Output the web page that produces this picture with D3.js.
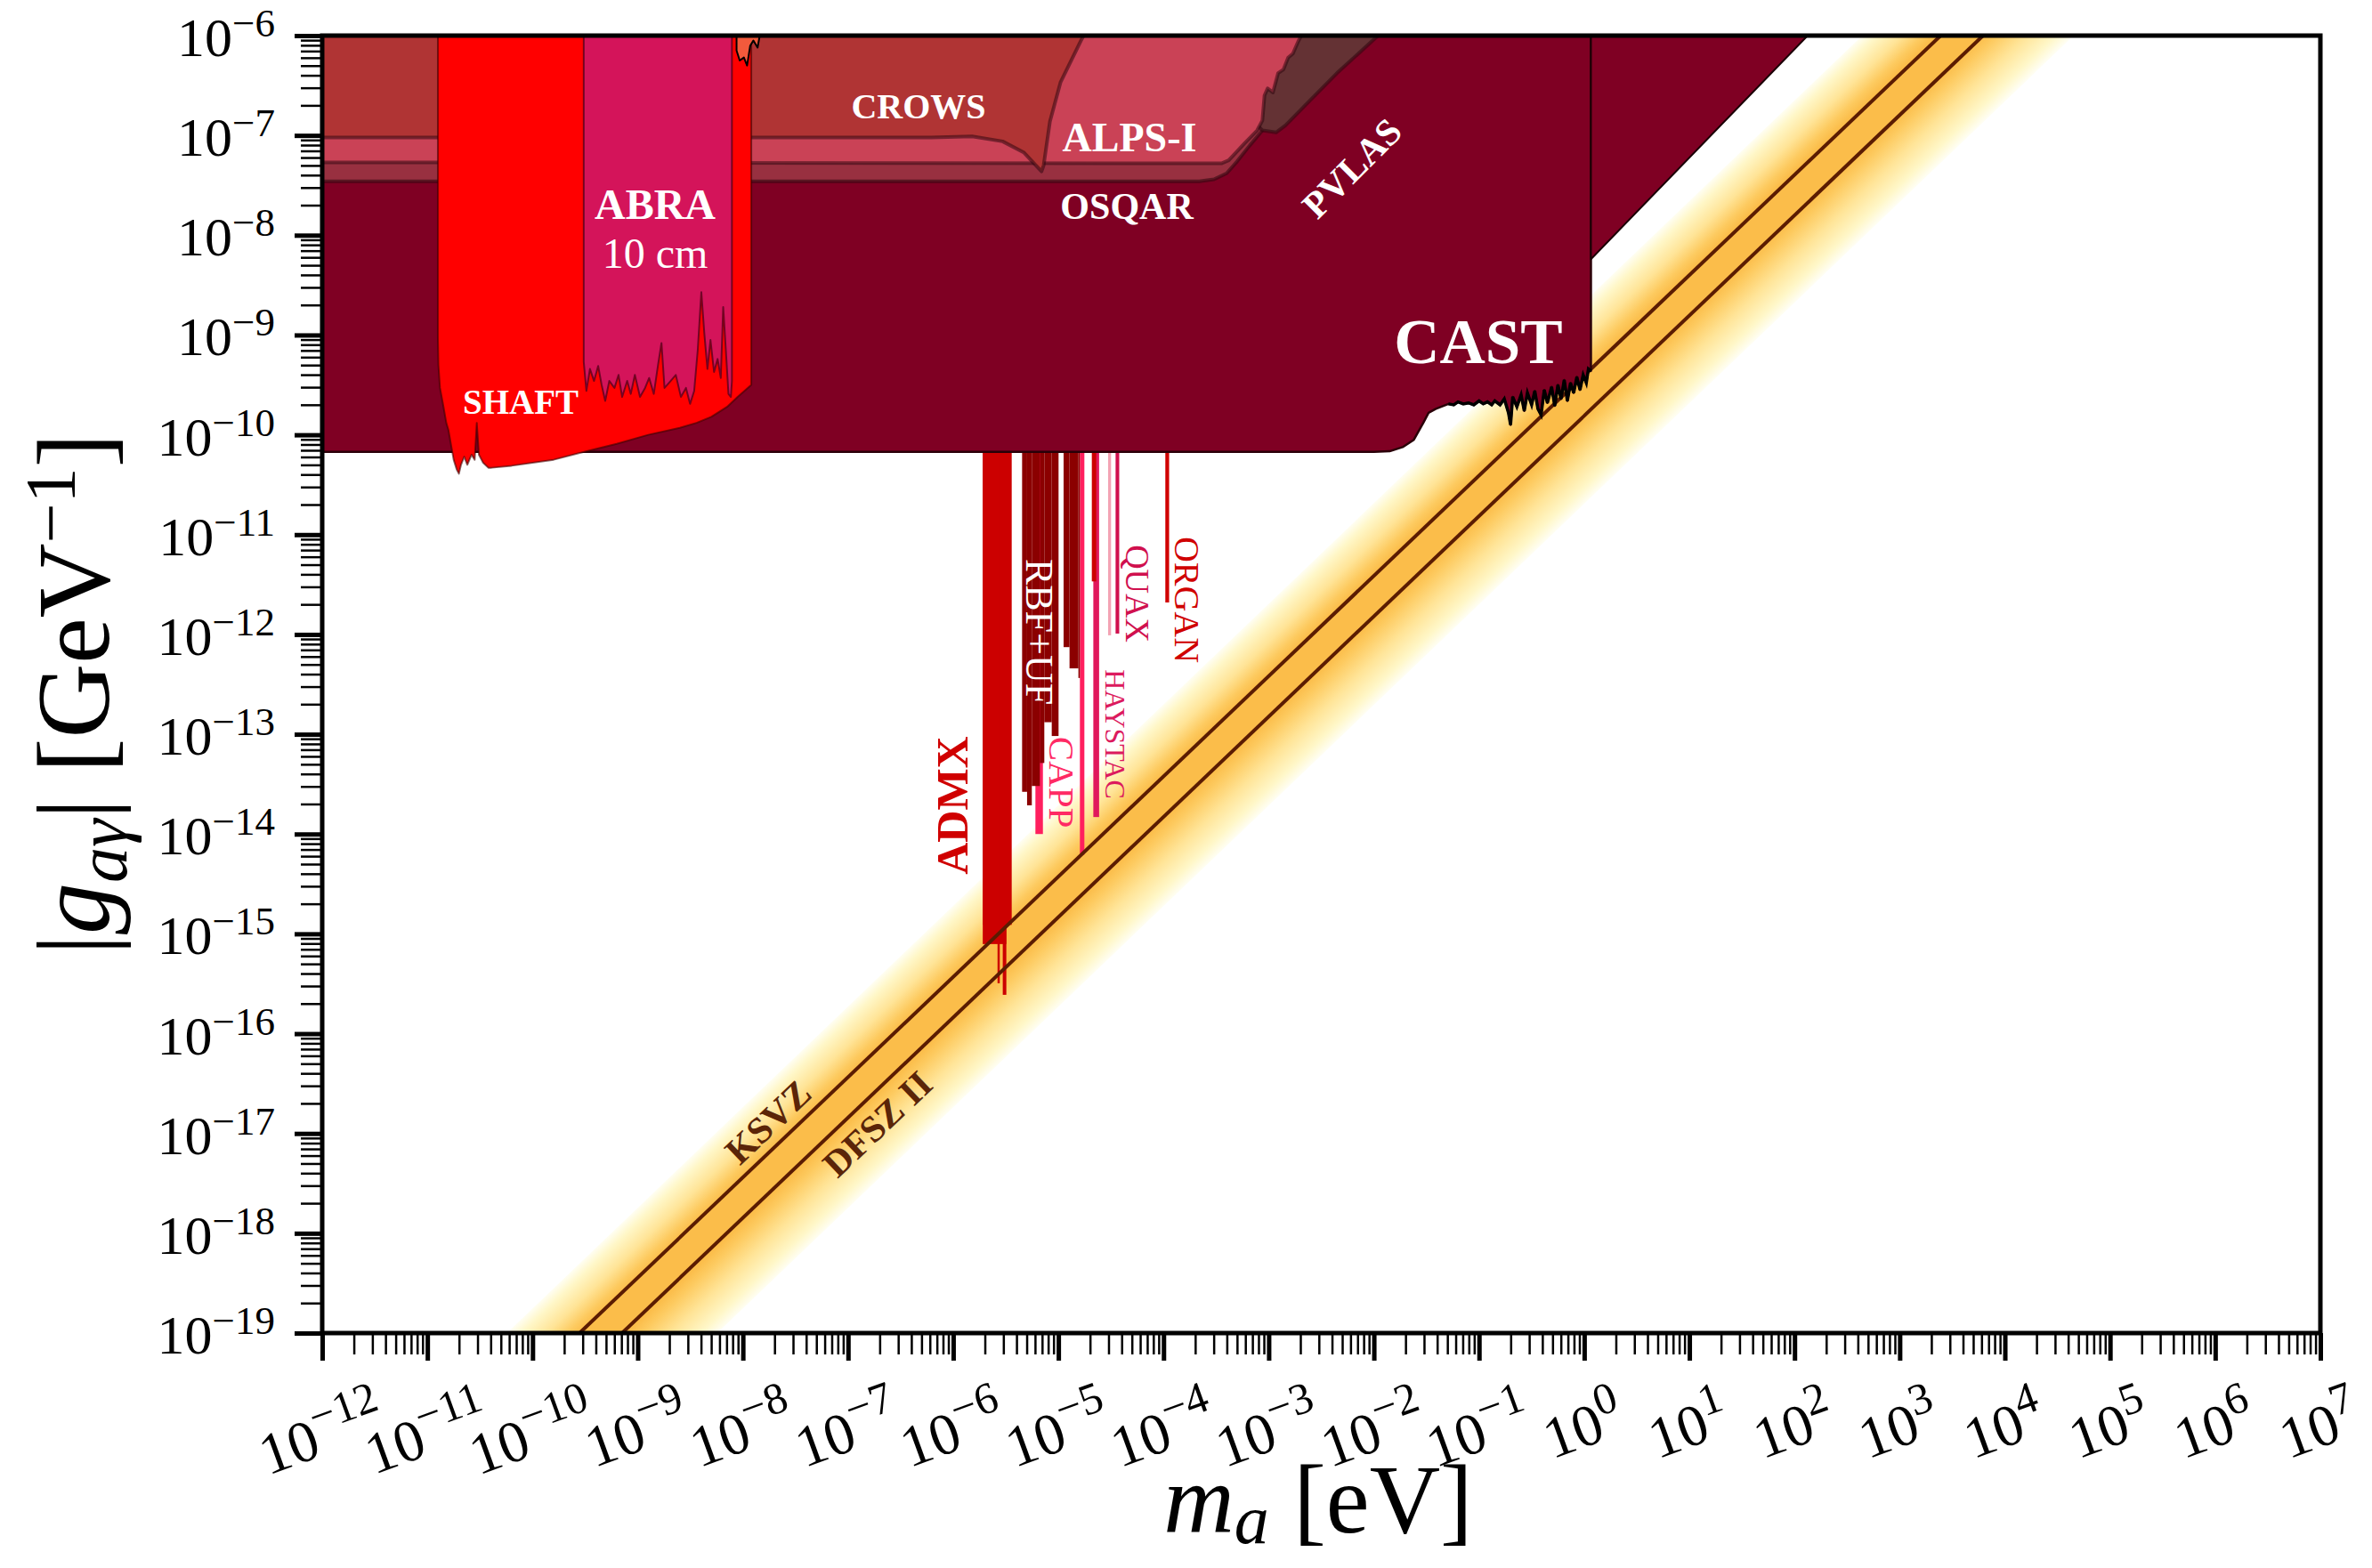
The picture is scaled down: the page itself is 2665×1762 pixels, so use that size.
<!DOCTYPE html>
<html>
<head>
<meta charset="utf-8">
<script src="https://cdn.jsdelivr.net/npm/d3@7"></script>
<style>
  body { margin: 0; background: #fff; }
  svg { display: block; }
  text { font-family: "Liberation Serif", "DejaVu Serif", serif; }
</style>
</head>
<body>
<svg id="chart" width="2665" height="1762"></svg>
<script>
// axion-photon coupling vs axion mass, log-log plane
// region outlines are stored as [log10 m (eV), log10 g (GeV^-1)]

var xDecades = d3.range(-12, 8);
var yDecades = d3.range(-19, -5);

// helioscope (CAST) + the region right of it
var castLog = [[-12,-6],[-12,-10.17],[-2.0,-10.17],[-1.85,-10.165],[-1.72,-10.12],[-1.62,-10.05],[-1.53,-9.88],
  [-1.48,-9.78],[-1.41,-9.74],[-1.29,-9.69],[-1.24,-9.70],[-1.20,-9.67],[-1.15,-9.69],[-1.10,-9.68],[-1.05,-9.70],
  [-1.00,-9.66],[-0.96,-9.69],[-0.92,-9.67],[-0.88,-9.70],[-0.85,-9.66],[-0.80,-9.70],[-0.76,-9.64],[-0.72,-9.78],
  [-0.70,-9.90],[-0.68,-9.62],[-0.64,-9.72],[-0.60,-9.60],[-0.57,-9.76],[-0.54,-9.58],[-0.50,-9.70],[-0.47,-9.56],
  [-0.44,-9.74],[-0.41,-9.80],[-0.38,-9.55],[-0.35,-9.68],[-0.31,-9.52],[-0.28,-9.71],[-0.25,-9.50],[-0.22,-9.64],
  [-0.19,-9.45],[-0.16,-9.66],[-0.13,-9.48],[-0.10,-9.58],[-0.07,-9.42],[-0.04,-9.55],[-0.01,-9.40],[0.02,-9.48],
  [0.04,-9.34],[0.064,-9.36],[0.064,-6]];
var castSideLog = [[0.064,-6],[0.064,-8.24],[2.125,-6]];

// light-shining-through-wall and birefringence
var crowsLog = [[-12,-6],[-12,-7.02],[-6.21,-7.02],[-5.82,-7.01],[-5.53,-7.06],[-5.33,-7.17],[-5.16,-7.36],
  [-5.14,-7.30],[-5.08,-6.86],[-4.98,-6.47],[-4.78,-6.04],[-4.76,-6]];
var alpsLog = [[-12,-6],[-12,-7.27],[-3.45,-7.28],[-3.38,-7.25],[-3.23,-7.08],[-3.11,-6.95],[-3.06,-6.85],
  [-3.04,-6.60],[-3.01,-6.53],[-2.96,-6.57],[-2.91,-6.375],[-2.86,-6.34],[-2.815,-6.22],[-2.77,-6.18],
  [-2.72,-6.06],[-2.69,-6]];
var osqarLog = [[-12,-6],[-12,-7.46],[-3.66,-7.46],[-3.52,-7.44],[-3.40,-7.38],[-3.30,-7.26],[-3.18,-7.10],
  [-3.06,-6.95],[-3.0,-6.6],[-3.0,-6]];
var pvlasLog = [[-3.5,-6],[-3.5,-6.5],[-3.06,-6.95],[-2.93,-6.97],[-2.84,-6.90],[-2.645,-6.69],[-2.35,-6.375],
  [-1.96,-6]];

// low-mass haloscopes
var shaftLog = [[-10.90,-6],[-10.90,-9.02],[-10.895,-9.30],[-10.88,-9.53],[-10.85,-9.70],[-10.82,-9.88],
  [-10.80,-9.95],[-10.775,-10.10],[-10.75,-10.25],[-10.72,-10.35],[-10.70,-10.39],[-10.68,-10.30],
  [-10.65,-10.22],[-10.62,-10.30],[-10.58,-10.20],[-10.55,-10.25],[-10.53,-9.88],[-10.51,-10.20],
  [-10.47,-10.28],[-10.42,-10.33],[-10.39,-10.33],[-10.2,-10.31],[-10.0,-10.28],[-9.8,-10.25],[-9.51,-10.17],
  [-9.2,-10.09],[-8.9,-10.0],[-8.6,-9.93],[-8.44,-9.88],[-8.3,-9.82],[-8.15,-9.72],[-8.05,-9.62],[-7.92,-9.50],
  [-7.92,-6]];
var abraLog = [[-9.513,-6],[-9.513,-9.27],[-9.488,-9.56],[-9.454,-9.34],[-9.415,-9.46],[-9.376,-9.31],
  [-9.343,-9.50],[-9.309,-9.66],[-9.270,-9.46],[-9.221,-9.53],[-9.182,-9.40],[-9.148,-9.62],[-9.100,-9.46],
  [-9.066,-9.59],[-9.027,-9.40],[-8.978,-9.62],[-8.930,-9.53],[-8.891,-9.43],[-8.847,-9.59],[-8.808,-9.31],
  [-8.774,-9.08],[-8.745,-9.53],[-8.687,-9.46],[-8.638,-9.40],[-8.589,-9.62],[-8.541,-9.53],[-8.502,-9.69],
  [-8.463,-9.56],[-8.429,-9.15],[-8.395,-8.57],[-8.366,-8.99],[-8.337,-9.34],[-8.308,-9.05],[-8.274,-9.37],
  [-8.240,-9.24],[-8.210,-9.43],[-8.187,-8.72],[-8.162,-9.15],[-8.137,-9.59],[-8.114,-9.62],[-8.104,-9.46],
  [-8.104,-6]];
var topSliverLog = [[-8.06,-6],[-8.06,-6.15],[-8.03,-6.25],[-7.99,-6.22],[-7.96,-6.30],[-7.93,-6.10],
  [-7.90,-6.05],[-7.86,-6.12],[-7.84,-6]];

// cavity haloscopes: [m low, m high, g reached] (eV, GeV^-1)
var admx = [[1.91e-6,3.60e-6,1.23e-15],[1.91e-6,3.20e-6,7.9e-16],[2.64e-6,2.77e-6,3.2e-16],[2.96e-6,3.20e-6,2.45e-16]];
var capp = [[6.05e-6,7.13e-6,1.0e-14],[1.602e-5,1.767e-5,6.2e-15]];
var rbfuf = [[4.52e-6,5.04e-6,2.65e-14],[5.04e-6,5.59e-6,1.94e-14],[5.59e-6,6.67e-6,3.03e-14],
  [6.67e-6,7.35e-6,5.15e-14],[7.35e-6,8.65e-6,1.32e-13],[8.65e-6,1.004e-5,9.6e-14],
  [1.121e-5,1.277e-5,7.46e-13],[1.277e-5,1.551e-5,4.57e-13],[1.551e-5,1.602e-5,3.66e-13]];
var haystac = [[2.15e-5,2.44e-5,1.48e-14]];
var haystacTop = [[2.08e-5,2.29e-5,3.4e-12]];
var quaxFaint = [[2.97e-5,3.17e-5,9.8e-13]];
var quax = [[3.50e-5,3.79e-5,1.02e-12]];
var organ = [[1.04e-4,1.13e-4,2.09e-12]];

// QCD axion band and model lines, end points [m, g]
var bandUpper = [[5.7e-11,1e-19],[4.4e2,1e-6]];
var bandLower = [[5.7e-9,1e-19],[4.5e4,1e-6]];
var ksvz = [[2.8e-10,1e-19],[2.45e3,1e-6]];
var dfsz = [[7.1e-10,1e-19],[6.2e3,1e-6]];

var svg = d3.select('#chart');
var L = 362, R = 2607, T = 40, B = 1498;

var x = d3.scaleLog().domain([1e-12, 1e7]).range([L, R]);
var y = d3.scaleLog().domain([1e-19, 1e-6]).range([B, T]);

var logPath = d3.line()
  .x(function(d){ return x(Math.pow(10, d[0])); })
  .y(function(d){ return y(Math.pow(10, d[1])); });
var linPath = d3.line()
  .x(function(d){ return x(d[0]); })
  .y(function(d){ return y(d[1]); });

var defs = svg.append('defs');
defs.append('clipPath').attr('id', 'plotclip')
  .append('rect').attr('x', L).attr('y', T).attr('width', R - L).attr('height', B - T);

// gradient across the QCD band, perpendicular to it
var a1 = [x(bandUpper[0][0]), y(bandUpper[0][1])], a2 = [x(bandUpper[1][0]), y(bandUpper[1][1])];
var b1 = [x(bandLower[0][0]), y(bandLower[0][1])];
var ux = a2[0] - a1[0], uy = a2[1] - a1[1], ul = Math.sqrt(ux*ux + uy*uy);
ux /= ul; uy /= ul;
var nx = -uy, ny = ux;
var tt = (b1[0] - a1[0]) * nx + (b1[1] - a1[1]) * ny;
var grad = defs.append('linearGradient').attr('id', 'qcdband')
  .attr('gradientUnits', 'userSpaceOnUse')
  .attr('x1', a1[0]).attr('y1', a1[1])
  .attr('x2', a1[0] + tt * nx).attr('y2', a1[1] + tt * ny);
[[0,'#fffef2'],[0.07,'#fff7c8'],[0.19,'#ffe497'],[0.29,'#fdca5f'],[0.35,'#fbbd4a'],
 [0.57,'#fbbd4a'],[0.64,'#fdca5f'],[0.78,'#ffe497'],[0.92,'#fff7c8'],[1,'#fffef2']].forEach(function(s){
  grad.append('stop').attr('offset', s[0]).attr('stop-color', s[1]);
});

var plot = svg.append('g').attr('clip-path', 'url(#plotclip)');

plot.append('path')
  .attr('d', linPath([bandUpper[0], bandUpper[1], bandLower[1], bandLower[0]]) + 'Z')
  .attr('fill', 'url(#qcdband)');

function bars(data, color){
  plot.append('g').selectAll('rect').data(data).enter().append('rect')
    .attr('x', function(d){ return x(d[0]); })
    .attr('width', function(d){ return x(d[1]) - x(d[0]); })
    .attr('y', T)
    .attr('height', function(d){ return y(d[2]) - T; })
    .attr('fill', color);
}
bars(capp, '#ff1f5e');
bars(rbfuf, '#8b0000');
bars(admx, '#cc0000');
bars(quaxFaint, '#f3a3b4');
bars(haystac, '#e0185c');
bars(haystacTop, '#cc0000');
bars(quax, '#d0104e');
bars(organ, '#d00000');

[ksvz, dfsz].forEach(function(l){
  plot.append('path').attr('d', linPath(l))
    .attr('stroke', '#5b1c02').attr('stroke-width', 4).attr('fill', 'none');
});

function region(pts, fill, stroke, sw){
  plot.append('path').attr('d', logPath(pts) + 'Z')
    .attr('fill', fill)
    .attr('stroke', stroke || 'none')
    .attr('stroke-width', sw || 0)
    .attr('stroke-linejoin', 'round');
}
region(castLog, '#7f0023', '#2a0008', 2.5);
region(castSideLog, '#7f0023', '#1a0005', 2);
// black line along the CAST limit
plot.append('path').attr('d', logPath(castLog.slice(9, castLog.length - 1)))
  .attr('fill', 'none').attr('stroke', '#000').attr('stroke-width', 3.5);

region(osqarLog, '#983040', 'rgba(50,8,16,0.6)', 4);
region(pvlasLog, '#643234', 'rgba(50,8,16,0.6)', 4);
region(alpsLog, '#ca4256', 'rgba(50,8,16,0.55)', 4);
region(crowsLog, '#b03434', 'rgba(50,8,16,0.55)', 4);
region(shaftLog, '#ff0000', 'rgba(60,0,0,0.6)', 2);
region(abraLog, '#d4145a', 'rgba(70,0,25,0.7)', 2);
region(topSliverLog, '#f25a3c', '#000', 2);

// labels inside the plot: [text, log m, log g, angle, size, weight, colour]
var notes = [
  ['CROWS', -6.330, -6.713, 0, 40, 'bold', '#fff'],
  ['ALPS-I', -4.324, -7.017, 0, 46, 'bold', '#fff'],
  ['OSQAR', -4.349, -7.712, 0, 42, 'bold', '#fff'],
  ['PVLAS', -2.208, -7.329, -45, 42, 'bold', '#fff'],
  ['ABRA', -8.835, -7.694, 0, 48, 'bold', '#fff'],
  ['10 cm', -8.835, -8.176, 0, 48, 'normal', '#fff'],
  ['SHAFT', -10.113, -9.665, 0, 39, 'bold', '#fff'],
  ['CAST', -1.006, -9.067, 0, 71, 'bold', '#fff'],
  ['ADMX', -6.008, -13.713, -90, 50, 'bold', '#d00000'],
  ['RBF+UF', -5.179, -11.974, 90, 44, 'normal', '#fff'],
  ['CAPP', -4.967, -13.481, 90, 41, 'normal', '#ff2a64'],
  ['HAYSTAC', -4.459, -12.999, 90, 32, 'normal', '#dc1a5e'],
  ['QUAX', -4.248, -11.591, 90, 38, 'normal', '#d0104e'],
  ['ORGAN', -3.782, -11.653, 90, 40, 'normal', '#d00000'],
  ['KSVZ', -7.760, -16.887, -43.5, 42, 'bold', '#5b2508'],
  ['DFSZ II', -6.719, -16.905, -43.5, 42, 'bold', '#5b2508']
];
svg.append('g').selectAll('text').data(notes).enter().append('text')
  .attr('transform', function(d){
    return 'translate(' + x(Math.pow(10, d[1])) + ',' + y(Math.pow(10, d[2])) + ') rotate(' + d[3] + ')';
  })
  .attr('text-anchor', 'middle')
  .attr('dominant-baseline', 'central')
  .attr('font-size', function(d){ return d[4]; })
  .attr('font-weight', function(d){ return d[5]; })
  .attr('fill', function(d){ return d[6]; })
  .text(function(d){ return d[0]; });

// ticks
function minors(decs){
  var out = [];
  decs.slice(0, -1).forEach(function(d){
    for (var k = 2; k < 10; k++) out.push(k * Math.pow(10, d));
  });
  return out;
}
var xMajor = xDecades.map(function(d){ return Math.pow(10, d); });
var yMajor = yDecades.map(function(d){ return Math.pow(10, d); });

function styleAxis(g, w){
  g.select('.domain').remove();
  g.selectAll('line').attr('stroke', '#000').attr('stroke-width', w);
}
svg.append('g').attr('transform', 'translate(0,' + B + ')')
  .call(d3.axisBottom(x).tickValues(minors(xDecades)).tickSize(24).tickFormat(''))
  .call(styleAxis, 2.5);
svg.append('g').attr('transform', 'translate(0,' + B + ')')
  .call(d3.axisBottom(x).tickValues(xMajor).tickSize(31).tickFormat(''))
  .call(styleAxis, 5);
svg.append('g').attr('transform', 'translate(' + L + ',0)')
  .call(d3.axisLeft(y).tickValues(minors(yDecades)).tickSize(24).tickFormat(''))
  .call(styleAxis, 2.5);
svg.append('g').attr('transform', 'translate(' + L + ',0)')
  .call(d3.axisLeft(y).tickValues(yMajor).tickSize(31).tickFormat(''))
  .call(styleAxis, 5);

svg.append('rect').attr('x', L).attr('y', T).attr('width', R - L).attr('height', B - T)
  .attr('fill', 'none').attr('stroke', '#000').attr('stroke-width', 5);

function expText(d){ return d < 0 ? '\u2212' + Math.abs(d) : String(d); }

// y tick labels
yDecades.forEach(function(d){
  var t = svg.append('text').attr('text-anchor', 'end')
    .attr('x', 309).attr('y', y(Math.pow(10, d)) + 23).attr('font-size', 62);
  t.append('tspan').text('10');
  t.append('tspan').attr('font-size', 45).attr('dy', -22).text(expText(d));
});

// x tick labels, rotated, bbox centred under the tick
xDecades.forEach(function(d){
  var xv = x(Math.pow(10, d));
  var g = svg.append('g');
  var t = g.append('text').attr('text-anchor', 'middle').attr('font-size', 66)
    .attr('transform', 'translate(' + xv + ',1600) rotate(-20)');
  t.append('tspan').text('10');
  t.append('tspan').attr('font-size', 50).attr('dy', -27).text(expText(d));
  var bb = t.node().getBoundingClientRect();
  g.attr('transform', 'translate(' + (xv - 3 - (bb.left + bb.right) / 2) + ',' + (1541 - bb.top) + ')');
});

// axis titles
var xt = svg.append('text').attr('x', 1481).attr('y', 1722)
  .attr('text-anchor', 'middle').attr('font-size', 110);
xt.append('tspan').attr('font-style', 'italic').text('m');
xt.append('tspan').attr('font-style', 'italic').attr('font-size', 78).attr('dy', 12).text('a');
xt.append('tspan').attr('dy', -12).text(' [eV]');

var yt = svg.append('text').attr('transform', 'translate(122,780) rotate(-90)')
  .attr('text-anchor', 'middle').attr('font-size', 116);
yt.append('tspan').text('|');
yt.append('tspan').attr('font-style', 'italic').text('g');
yt.append('tspan').attr('font-style', 'italic').attr('font-size', 80).attr('dy', 20).text('a\u03b3');
yt.append('tspan').attr('dy', -20).text('| [GeV');
yt.append('tspan').attr('font-size', 80).attr('dy', -38).text('\u22121');
yt.append('tspan').attr('dy', 38).text(']');
</script>
</body>
</html>
